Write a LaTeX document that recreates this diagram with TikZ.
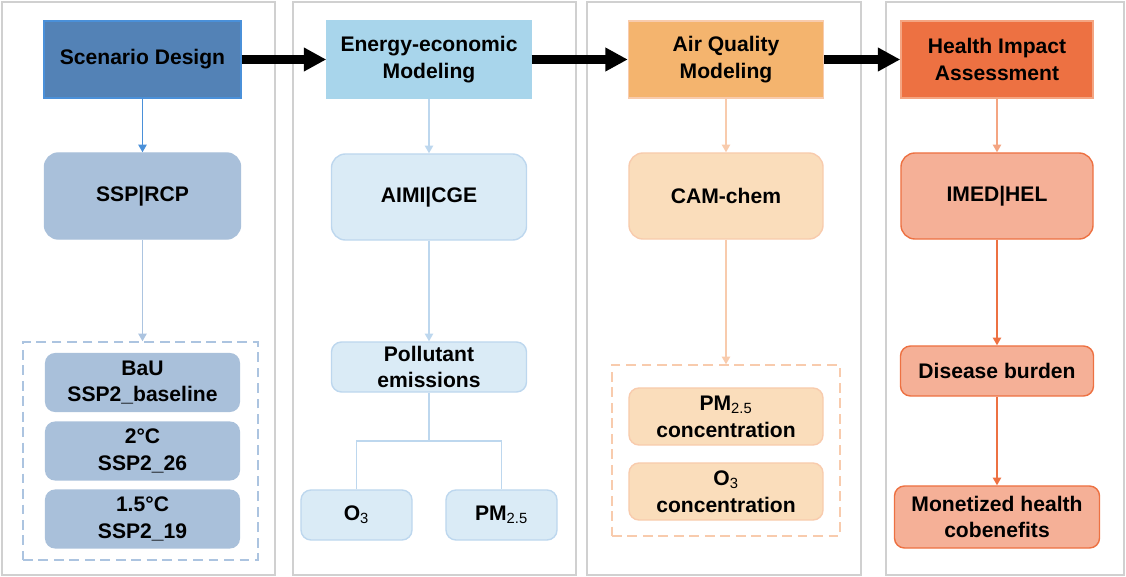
\documentclass[tikz,border=0pt]{standalone}
\usepackage{fontspec}
\setmainfont{Liberation Sans}
\usetikzlibrary{arrows.meta}

\definecolor{panelgray}{HTML}{D0D0D0}
\definecolor{blueA}{HTML}{5382B6}
\definecolor{blueB}{HTML}{4A90D9}
\definecolor{blueC}{HTML}{A9C0DA}
\definecolor{blueD}{HTML}{ACC4E0}
\definecolor{skyA}{HTML}{A8D5EB}
\definecolor{skyB}{HTML}{BDD7EE}
\definecolor{skyC}{HTML}{DAEBF6}
\definecolor{peachA}{HTML}{F4B46E}
\definecolor{peachB}{HTML}{F8CBAD}
\definecolor{peachC}{HTML}{FADDBB}
\definecolor{coralA}{HTML}{ED7142}
\definecolor{coralB}{HTML}{F4A582}
\definecolor{coralC}{HTML}{F5B097}

\begin{document}
\begin{tikzpicture}[x=0.025cm,y=-0.025cm,
  every node/.style={font=\fontsize{15}{19}\selectfont\bfseries, align=center, inner sep=0pt},
  panel/.style={draw=panelgray, line width=1.4pt},
  tbox/.style={line width=1pt, minimum height=1.925cm},
  rbox/.style={line width=1pt, rounded corners=0.35cm, minimum height=2.15cm},
  sbox/.style={line width=1pt, rounded corners=0.25cm},
  groupbox/.style={line width=1pt, dash pattern=on 7pt off 4pt},
  bigarrow/.style={line width=5.7pt, -{Triangle[length=16pt,width=16pt]}},
  thinarrow/.style={line width=1pt, -{Triangle[length=5.5pt,width=6pt]}},
  treeline/.style={line width=1pt}]
  \useasboundingbox (0,0) rectangle (1126,577);
  % panels
  \draw[panel] (2,2) rectangle (275,575);
  \draw[panel] (293,2) rectangle (576,575);
  \draw[panel] (587,2) rectangle (861,575);
  \draw[panel] (886,2) rectangle (1124,575);
  % titles
  \node[tbox, fill=blueA, draw=blueB, minimum width=4.925cm] (design) at (142.5,59.5) {Scenario Design};
  \node[tbox, fill=skyA, draw=skyA, minimum width=5.1cm] (energy) at (429,59.5) {Energy-economic\\Modeling};
  \node[tbox, fill=peachA, draw=peachB, minimum width=4.875cm] (air) at (726,59.5) {Air Quality\\Modeling};
  \node[tbox, fill=coralA, draw=coralB, minimum width=4.8cm] (health) at (997,59.5) {Health Impact\\Assessment};
  \draw[bigarrow] (design) -- (energy);
  \draw[bigarrow] (energy) -- (air);
  \draw[bigarrow] (air) -- (health);
  % models
  \node[rbox, fill=blueC, draw=blueC, minimum width=4.9cm] (ssp) at (142.5,196) {SSP|RCP};
  \node[rbox, fill=skyC, draw=skyB, minimum width=4.875cm] (aimi) at (429,197) {AIMI|CGE};
  \node[rbox, fill=peachC, draw=peachB, minimum width=4.85cm] (cam) at (726,196) {CAM-chem};
  \node[rbox, fill=coralC, draw=coralA, minimum width=4.8cm] (imed) at (997,196) {IMED|HEL};
  \draw[thinarrow, blueB] (design) -- (ssp);
  \draw[thinarrow, skyB] (energy) -- (aimi);
  \draw[thinarrow, peachB] (air) -- (cam);
  \draw[thinarrow, coralB] (health) -- (imed);
  % scenarios
  \node[groupbox, draw=blueD, minimum width=5.875cm, minimum height=5.45cm] (scenarios) at (140.5,451) {};
  \node[sbox, fill=blueC, minimum width=4.875cm, minimum height=1.475cm] (bau) at (142.5,382.5) {BaU\\SSP2\_baseline};
  \node[sbox, fill=blueC, minimum width=4.875cm, minimum height=1.475cm] (two) at (142.5,451) {2°C\\SSP2\_26};
  \node[sbox, fill=blueC, minimum width=4.875cm, minimum height=1.475cm] (onefive) at (142.5,519) {1.5°C\\SSP2\_19};
  \draw[thinarrow, blueD] (ssp) -- (ssp |- scenarios.north);
  % emissions
  \node[sbox, fill=skyC, draw=skyB, minimum width=4.875cm, minimum height=1.25cm] (emis) at (429,367) {Pollutant\\emissions};
  \node[sbox, fill=skyC, draw=skyB, minimum width=2.775cm, minimum height=1.25cm] (ozone) at (356.5,515) {O\textsubscript{\mdseries 3}};
  \node[sbox, fill=skyC, draw=skyB, minimum width=2.775cm, minimum height=1.25cm] (pm) at (501.5,515) {PM\textsubscript{\mdseries 2.5}};
  \coordinate (split) at (429,441);
  \draw[thinarrow, skyB] (aimi) -- (emis);
  \draw[treeline, skyB] (emis) -- (split);
  \draw[treeline, skyB] (ozone) |- (split) -| (pm);
  % concentrations
  \node[groupbox, draw=peachB, minimum width=5.7cm, minimum height=4.275cm] (conc) at (726,450.5) {};
  \node[sbox, fill=peachC, draw=peachB, minimum width=4.85cm, minimum height=1.425cm] (pmconc) at (726,416.5) {PM\textsubscript{\mdseries 2.5}\\concentration};
  \node[sbox, fill=peachC, draw=peachB, minimum width=4.85cm, minimum height=1.425cm] (oconc) at (726,491.5) {O\textsubscript{\mdseries 3}\\concentration};
  \draw[thinarrow, peachB] (cam) -- (conc);
  % health
  \node[sbox, fill=coralC, draw=coralA, minimum width=4.825cm, minimum height=1.25cm] (burden) at (997,371) {Disease burden};
  \node[sbox, fill=coralC, draw=coralA, minimum width=5.125cm, minimum height=1.55cm] (money) at (997,517) {Monetized health\\cobenefits};
  \draw[thinarrow, coralA] (imed) -- (burden);
  \draw[thinarrow, coralA] (burden) -- (money);
\end{tikzpicture}
\end{document}
